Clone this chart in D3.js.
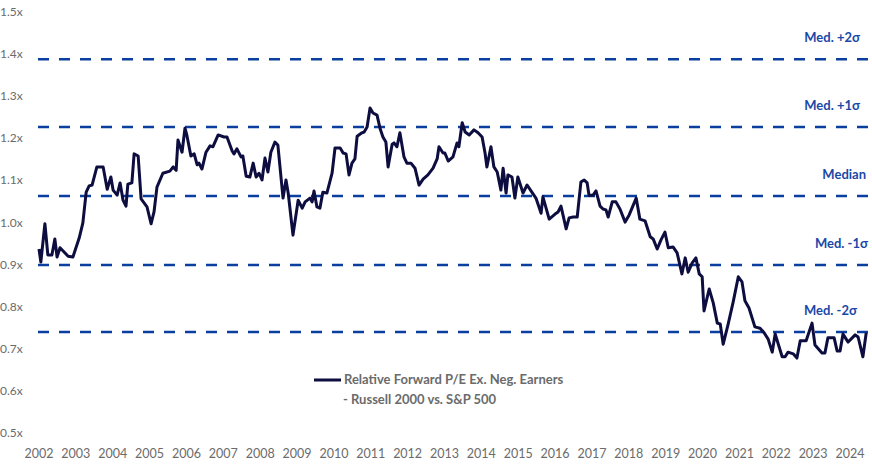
<!DOCTYPE html>
<html>
<head>
<meta charset="utf-8">
<script src="https://cdn.jsdelivr.net/npm/d3@7"></script>
<style>
  body { margin: 0; background: #fff; }
  text { font-family: Lato, "Open Sans", sans-serif; }
</style>
</head>
<body>
<svg id="svg" width="872" height="467"></svg>
<script>
// decimal year, relative forward P/E
var dates = [2002.00,2002.05,2002.16,2002.24,2002.35,2002.43,2002.49,2002.57,2002.79,2002.92,
  2003.09,2003.19,2003.28,2003.36,2003.44,2003.57,2003.74,2003.85,2003.95,2004.01,
  2004.12,2004.20,2004.28,2004.36,2004.41,2004.52,2004.58,2004.69,2004.77,2004.93,
  2005.04,2005.12,2005.20,2005.36,2005.55,2005.64,2005.72,2005.77,2005.88,2005.96,
  2006.01,2006.12,2006.21,2006.29,2006.34,2006.42,2006.53,2006.64,2006.72,2006.86,
  2007.02,2007.10,2007.24,2007.29,2007.37,2007.48,2007.53,2007.62,2007.72,2007.81,
  2007.89,2007.97,2008.05,2008.13,2008.21,2008.29,2008.40,2008.48,2008.62,2008.70,
  2008.76,2008.89,2009.03,2009.14,2009.22,2009.35,2009.41,2009.46,2009.54,2009.62,
  2009.70,2009.81,2009.95,2010.03,2010.17,2010.25,2010.33,2010.41,2010.49,2010.57,
  2010.63,2010.76,2010.82,2010.90,2010.98,2011.06,2011.17,2011.25,2011.33,2011.41,
  2011.47,2011.58,2011.63,2011.71,2011.79,2011.90,2011.98,2012.09,2012.20,2012.31,
  2012.42,2012.55,2012.69,2012.80,2012.85,2012.96,2013.01,2013.10,2013.23,2013.34,
  2013.39,2013.48,2013.56,2013.67,2013.80,2013.91,2014.02,2014.10,2014.15,2014.26,
  2014.34,2014.43,2014.53,2014.59,2014.67,2014.72,2014.83,2014.91,2014.99,2015.13,
  2015.24,2015.37,2015.48,2015.62,2015.67,2015.84,2016.00,2016.08,2016.16,2016.30,
  2016.38,2016.49,2016.60,2016.70,2016.79,2016.87,2016.92,2017.03,2017.11,2017.22,
  2017.30,2017.38,2017.44,2017.55,2017.65,2017.76,2017.90,2018.01,2018.20,2018.30,
  2018.44,2018.58,2018.66,2018.77,2018.87,2018.98,2019.07,2019.20,2019.31,2019.44,
  2019.53,2019.61,2019.72,2019.82,2019.91,2019.99,2020.04,2020.18,2020.29,2020.40,
  2020.48,2020.56,2020.69,2020.83,2020.97,2021.07,2021.15,2021.26,2021.42,2021.56,
  2021.67,2021.78,2021.89,2021.97,2022.16,2022.24,2022.32,2022.46,2022.56,2022.65,
  2022.81,2022.97,2023.05,2023.24,2023.32,2023.40,2023.57,2023.65,2023.73,2023.81,
  2023.95,2024.14,2024.22,2024.35,2024.44];
var values = [0.937,0.906,0.997,0.923,0.923,0.961,0.918,0.940,0.920,0.918,
  0.963,0.999,1.072,1.087,1.089,1.132,1.132,1.079,1.108,1.077,
  1.065,1.094,1.053,1.039,1.091,1.094,1.163,1.158,1.056,1.037,
  0.997,1.025,1.084,1.117,1.122,1.132,1.124,1.196,1.167,1.224,
  1.208,1.158,1.163,1.137,1.141,1.127,1.167,1.182,1.180,1.208,
  1.203,1.203,1.170,1.163,1.175,1.156,1.158,1.110,1.108,1.141,
  1.108,1.117,1.101,1.153,1.120,1.167,1.191,1.184,1.058,1.101,
  1.070,0.970,1.053,1.034,1.049,1.058,1.049,1.075,1.037,1.034,
  1.072,1.070,1.117,1.177,1.177,1.165,1.163,1.113,1.141,1.151,
  1.205,1.213,1.215,1.227,1.272,1.260,1.255,1.224,1.203,1.191,
  1.132,1.186,1.189,1.180,1.213,1.156,1.141,1.141,1.129,1.089,
  1.103,1.113,1.129,1.151,1.180,1.165,1.165,1.146,1.156,1.189,
  1.180,1.237,1.215,1.208,1.220,1.213,1.203,1.165,1.132,1.180,
  1.132,1.120,1.077,1.129,1.070,1.113,1.108,1.058,1.108,1.070,
  1.089,1.072,1.058,1.022,1.061,1.008,1.020,1.025,1.039,0.985,
  1.011,1.013,1.013,1.096,1.101,1.094,1.065,1.065,1.075,1.039,
  1.032,1.030,1.013,1.049,1.049,1.032,1.001,1.018,1.058,1.008,
  1.004,0.966,0.961,0.937,0.958,0.977,0.940,0.942,0.928,0.878,
  0.916,0.882,0.904,0.916,0.878,0.871,0.790,0.842,0.809,0.761,
  0.759,0.711,0.757,0.811,0.871,0.859,0.814,0.797,0.752,0.749,
  0.738,0.723,0.692,0.735,0.681,0.681,0.692,0.688,0.678,0.719,
  0.719,0.761,0.709,0.690,0.690,0.726,0.726,0.695,0.695,0.735,
  0.716,0.733,0.728,0.681,0.738];
var bandValues = [1.388, 1.227, 1.063, 0.899, 0.740];
var bandLabels = ["Med. +2\u03c3", "Med. +1\u03c3", "Median", "Med. -1\u03c3", "Med. -2\u03c3"];
var bandLabelRight = [860, 860, 866, 868, 857];
var yTicks = [1.5, 1.4, 1.3, 1.2, 1.1, 1.0, 0.9, 0.8, 0.7, 0.6, 0.5];
var xTicks = d3.range(2002, 2025);
var legendLines = ["Relative Forward P/E Ex. Neg. Earners", "- Russell 2000 vs. S&P 500"];

var svg = d3.select("#svg");
var x = d3.scaleLinear().domain([2002, 2024]).range([39, 850]);
var y = d3.scaleLinear().domain([0.5, 1.5]).range([433, 12]);

// y tick labels (no axis line)
svg.append("g").selectAll("text").data(yTicks).enter().append("text")
  .attr("x", 0).attr("y", d => y(d) + 4)
  .attr("font-size", 12).attr("fill", "#6b6b6b")
  .text(d => d.toFixed(1) + "x");

// x tick labels
svg.append("g").selectAll("text").data(xTicks).enter().append("text")
  .attr("x", d => x(d)).attr("y", 458)
  .attr("text-anchor", "middle")
  .attr("font-size", 12.5).attr("fill", "#6b6b6b")
  .text(d => d);

// bands
var bands = svg.append("g");
bands.selectAll("line").data(bandValues).enter().append("line")
  .attr("x1", 38).attr("x2", 868)
  .attr("y1", d => y(d)).attr("y2", d => y(d))
  .attr("stroke", "#0a3fa0").attr("stroke-width", 2.5)
  .attr("stroke-dasharray", "11,10");
bands.selectAll("text").data(bandValues).enter().append("text")
  .attr("x", (d, i) => bandLabelRight[i]).attr("y", d => y(d) - 17)
  .attr("text-anchor", "end")
  .attr("font-size", 13).attr("font-weight", "bold").attr("fill", "#1a48a8")
  .text((d, i) => bandLabels[i]);

// series
svg.append("path")
  .attr("fill", "none").attr("stroke", "#0d0d40").attr("stroke-width", 3)
  .attr("stroke-linejoin", "round")
  .attr("d", d3.line().x((d, i) => x(dates[i])).y(d => y(d))(values));

// legend
svg.append("line").attr("x1", 314).attr("x2", 341).attr("y1", 380).attr("y2", 380)
  .attr("stroke", "#0d0d40").attr("stroke-width", 3);
svg.append("g").selectAll("text").data(legendLines).enter().append("text")
  .attr("x", (d, i) => i ? 343 : 344).attr("y", (d, i) => 384 + i * 20)
  .attr("font-size", 13).attr("font-weight", "bold").attr("fill", "#6b6b6b")
  .text(d => d);
</script>
</body>
</html>
